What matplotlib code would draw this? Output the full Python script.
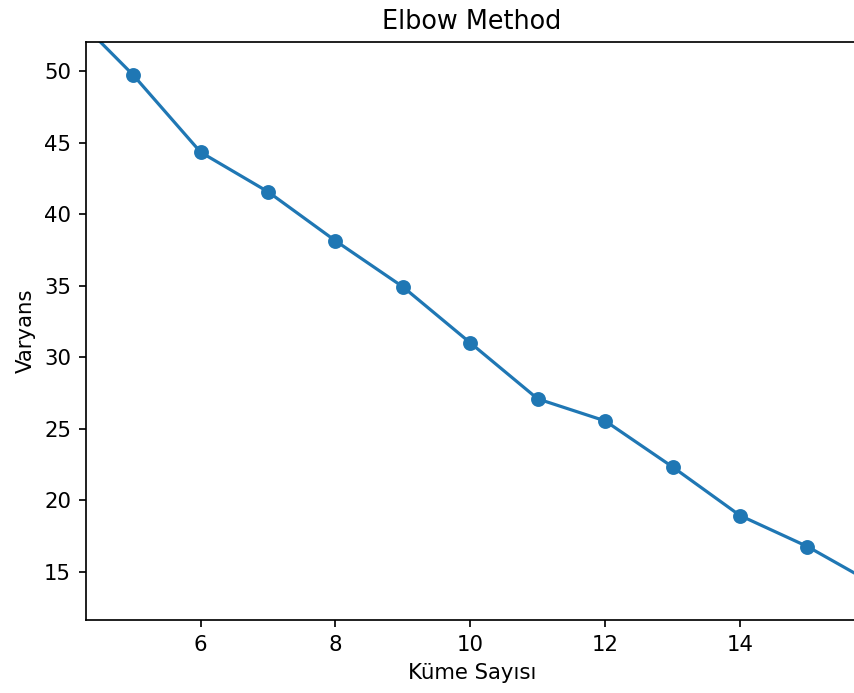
import matplotlib
matplotlib.use("Agg")
import matplotlib.pyplot as plt

# cluster count vs. variance
k_values = [4, 5, 6, 7, 8, 9, 10, 11, 12, 13, 14, 15, 16]
variance = [54.5, 49.75, 44.35, 41.58, 38.15, 34.93, 31.01, 27.09, 25.55,
            22.33, 18.93, 16.76, 14.1]

W, H, DPI = 854, 693, 153
fig = plt.figure(figsize=(W / DPI, H / DPI), dpi=DPI)

# axes box in pixels: left 86, top 42, bottom 620, right runs off the canvas
left, right, top, bottom = 86, 858, 42, 620
ax = fig.add_axes([left / W, (H - bottom) / H, (right - left) / W, (bottom - top) / H])

ax.plot(k_values, variance, marker="o", color="#1f77b4")
ax.set_xlim(4.3, 15.75)
ax.set_ylim(11.62, 52.06)

ax.set_title("Elbow Method")
ax.set_xlabel("Küme Sayısı")
ax.set_ylabel("Varyans")

fig.savefig("out.png", dpi=DPI, facecolor="white")
